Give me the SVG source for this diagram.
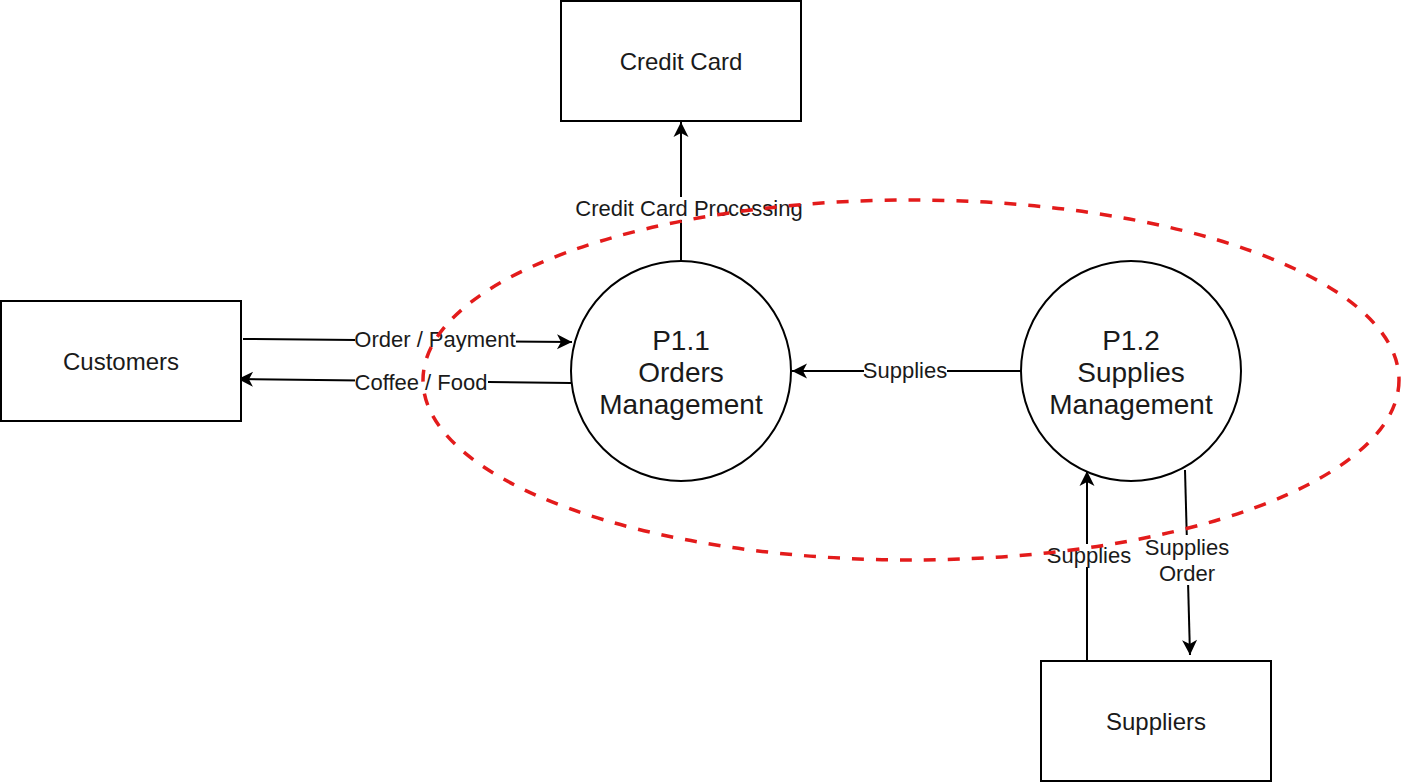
<svg xmlns="http://www.w3.org/2000/svg" width="1404" height="782" viewBox="0 0 1404 782">
<style>
.box{fill:#fff;stroke:#000;stroke-width:2}
.proc{fill:#fff;stroke:#000;stroke-width:2}
.t{font-family:"Liberation Sans",Arial,sans-serif;font-size:24px;fill:#1a1a1a;text-anchor:middle}
.pt{font-family:"Liberation Sans",Arial,sans-serif;font-size:28px;fill:#1a1a1a;text-anchor:middle}
.lbl{font-family:"Liberation Sans",Arial,sans-serif;font-size:22px;fill:#1a1a1a;text-anchor:middle}
.edge{fill:none;stroke:#000;stroke-width:2}
.lblbg{fill:#fff}
.bound{fill:none;stroke:#e31b1b;stroke-width:3.5;stroke-dasharray:12 12}
</style>
<defs>
<marker id="arr" markerUnits="userSpaceOnUse" markerWidth="18" markerHeight="18" refX="16" refY="9" orient="auto">
<path d="M1,1.5 L16,9 L1,16.5 L5,9 z" fill="#000"/>
</marker>
</defs>
<rect width="1404" height="782" fill="#fff"/>
<g id="connectors">
<line class="edge" x1="243" y1="339" x2="572" y2="342" marker-end="url(#arr)"/>
<line class="edge" x1="571" y1="383" x2="238" y2="379" marker-end="url(#arr)"/>
<line class="edge" x1="681" y1="261" x2="681" y2="122" marker-end="url(#arr)"/>
<line class="edge" x1="1021" y1="371" x2="792" y2="371" marker-end="url(#arr)"/>
<line class="edge" x1="1087" y1="661" x2="1087" y2="471" marker-end="url(#arr)"/>
<line class="edge" x1="1185" y1="470" x2="1190" y2="655" marker-end="url(#arr)"/>
<rect class="lblbg" x="355" y="328" width="161" height="23"/>
<text class="lbl" x="435" y="347">Order / Payment</text>
<rect class="lblbg" x="355" y="371" width="133" height="23"/>
<text class="lbl" x="421" y="390">Coffee / Food</text>
<rect class="lblbg" x="576" y="197" width="226" height="23"/>
<text class="lbl" x="689" y="216">Credit Card Processing</text>
<rect class="lblbg" x="864" y="359" width="83" height="23"/>
<text class="lbl" x="905" y="378">Supplies</text>
<rect class="lblbg" x="1047" y="544" width="84" height="23"/>
<text class="lbl" x="1089" y="563">Supplies</text>
<rect class="lblbg" x="1145" y="535" width="85" height="50"/>
<text class="lbl" x="1187" y="555">Supplies</text>
<text class="lbl" x="1187" y="581">Order</text>
</g>
<g id="credit-card">
<rect class="box" x="561" y="1" width="240" height="120"/>
<text class="t" x="681" y="70">Credit Card</text>
</g>
<g id="customers">
<rect class="box" x="1" y="301" width="240" height="120"/>
<text class="t" x="121" y="370">Customers</text>
</g>
<g id="suppliers">
<rect class="box" x="1041" y="661" width="230" height="120"/>
<text class="t" x="1156" y="730">Suppliers</text>
</g>
<g id="p11">
<circle class="proc" cx="681" cy="371" r="110"/>
<text class="pt" x="681" y="350">P1.1</text>
<text class="pt" x="681" y="382">Orders</text>
<text class="pt" x="681" y="414">Management</text>
</g>
<g id="p12">
<circle class="proc" cx="1131" cy="371" r="110"/>
<text class="pt" x="1131" y="350">P1.2</text>
<text class="pt" x="1131" y="382">Supplies</text>
<text class="pt" x="1131" y="414">Management</text>
</g>
<g id="boundary">
<ellipse class="bound" cx="911" cy="380" rx="488" ry="180"/>
</g>
</svg>
